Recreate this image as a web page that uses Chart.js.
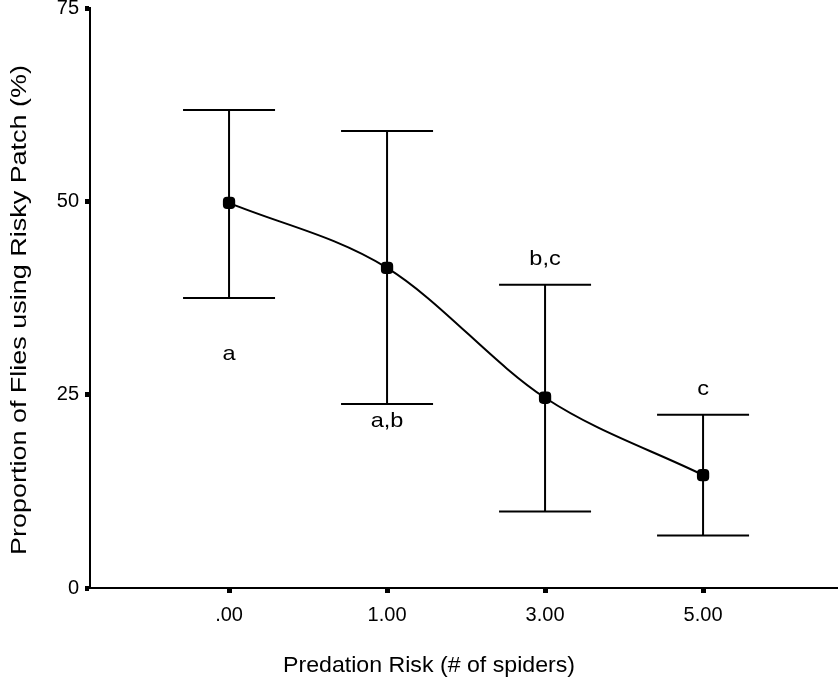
<!DOCTYPE html>
<html>
<head>
<meta charset="utf-8">
<script src="https://cdn.jsdelivr.net/npm/chart.js@4"></script>
<style>
  html, body { margin: 0; padding: 0; background: #fff; overflow: hidden; }
  #wrap { width: 838px; height: 678px; overflow: hidden; }
  canvas { display: block; }
</style>
</head>
<body>
<div id="wrap"><canvas id="riskChart" width="846" height="678"></canvas></div>
<script>
// data
var riskLabels = ['.00', '1.00', '3.00', '5.00'];
var meanValues = [49.8, 41.4, 24.6, 14.6];
var upperValues = [61.8, 59.1, 39.2, 22.4];
var lowerValues = [37.5, 23.8, 9.9, 6.8];
var groupLetters = ['a', 'a,b', 'b,c', 'c'];
var letterValues = [29.5, 20.8, 41.8, 25.0];  // baseline of letters (in % units)
var yTicks = [0, 25, 50, 75];

var font = '"Liberation Sans", Arial, sans-serif';

// draw text stretched to a given length
function stretchText(c, txt, x, y, len) {
    var w = c.measureText(txt).width;
    c.save();
    c.translate(x, y);
    c.scale(len / w, 1);
    c.fillText(txt, 0, 0);
    c.restore();
}

// error bars, letters and axis titles
var extras = {
    id: 'extras',
    afterDatasetsDraw: function (chart) {
        var c = chart.ctx;
        var xs = chart.scales.x;
        var ys = chart.scales.y;
        c.save();
        c.strokeStyle = '#000';
        c.lineWidth = 2;
        for (var i = 0; i < meanValues.length; i++) {
            var px = xs.getPixelForValue(i);
            var top = ys.getPixelForValue(upperValues[i]);
            var bot = ys.getPixelForValue(lowerValues[i]);
            c.beginPath();
            c.moveTo(px, top); c.lineTo(px, bot);
            c.moveTo(px - 46, top); c.lineTo(px + 46, top);
            c.moveTo(px - 46, bot); c.lineTo(px + 46, bot);
            c.stroke();
        }
        c.fillStyle = '#000';
        c.font = '21px ' + font;
        c.textAlign = 'center';
        c.textBaseline = 'alphabetic';
        for (var j = 0; j < groupLetters.length; j++) {
            stretchText(c, groupLetters[j], xs.getPixelForValue(j), ys.getPixelForValue(letterValues[j]),
                c.measureText(groupLetters[j]).width * 1.12);
        }
        // axis titles
        c.font = '22px ' + font;
        stretchText(c, 'Predation Risk (# of spiders)', 429, 672, 292);
        c.translate(26, 310);
        c.rotate(-Math.PI / 2);
        stretchText(c, 'Proportion of Flies using Risky Patch (%)', 0, 0, 490);
        c.restore();
    }
};

var ctx = document.getElementById('riskChart').getContext('2d');
var chart = new Chart(ctx, {
    type: 'line',
    data: {
        datasets: [{
            data: meanValues.map(function (v, i) { return { x: i, y: v }; }),
            borderColor: '#000',
            backgroundColor: '#000',
            borderWidth: 2,
            cubicInterpolationMode: 'monotone',
            pointStyle: 'rectRounded',
            pointRadius: 6,
            pointHoverRadius: 6,
            fill: false
        }]
    },
    options: {
        responsive: false,
        animation: false,
        layout: { padding: { top: 8, right: 0, left: 0, bottom: 0 } },
        plugins: { legend: { display: false }, tooltip: { enabled: false } },
        scales: {
            x: {
                type: 'linear',
                min: -0.88,
                max: 3.854,
                afterBuildTicks: function (s) {
                    s.ticks = riskLabels.map(function (l, i) { return { value: i }; });
                },
                afterFit: function (s) {
                    s.height = 90;
                    s.paddingLeft = 0; s.paddingRight = 0;
                },
                ticks: {
                    callback: function (v) { return riskLabels[v]; },
                    color: '#000',
                    font: { family: font, size: 20 },
                    padding: 10,
                    maxRotation: 0
                },
                grid: { drawOnChartArea: false, tickLength: 5, tickWidth: 5, color: '#000' },
                border: { color: '#000', width: 2 }
            },
            y: {
                min: 0,
                max: 75,
                afterBuildTicks: function (s) {
                    s.ticks = yTicks.map(function (v) { return { value: v }; });
                },
                afterFit: function (s) {
                    s.width = 90;
                    s.paddingTop = 0; s.paddingBottom = 0;
                },
                ticks: {
                    color: '#000',
                    font: { family: font, size: 20 },
                    padding: 6
                },
                grid: { drawOnChartArea: false, tickLength: 5, tickWidth: 5, color: '#000' },
                border: { color: '#000', width: 2 }
            }
        }
    },
    plugins: [extras]
});
</script>
</body>
</html>
